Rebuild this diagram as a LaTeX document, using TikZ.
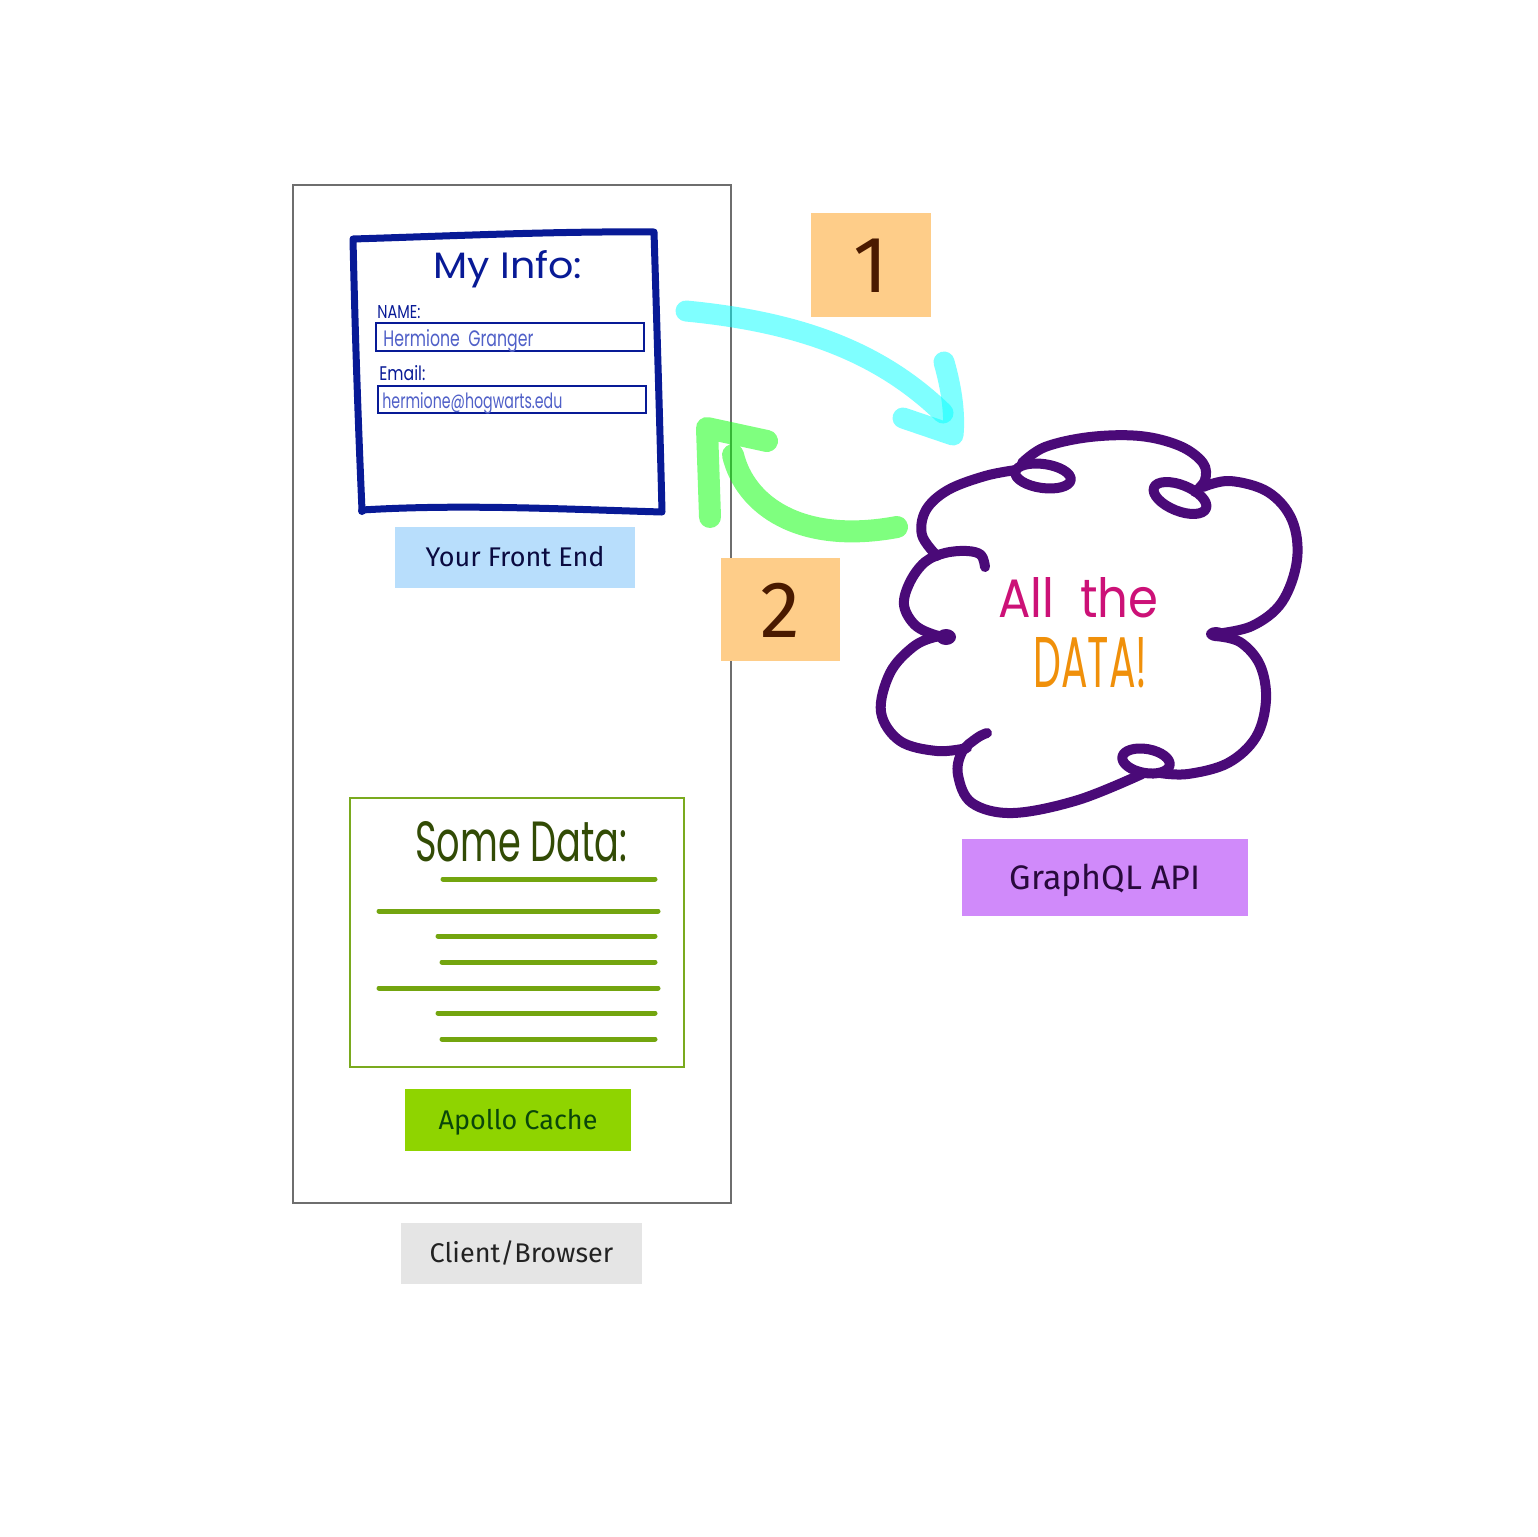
\documentclass[tikz,border=0pt]{standalone}
\usepackage{fontspec}
\usepackage{graphicx}
\setmainfont{Fira Sans}
\newfontfamily\handfont{Poppins}
\newcommand\hw[3]{\resizebox{#1pt}{#2pt}{\handfont #3}}
\definecolor{formblue}{RGB}{8,26,150}
\definecolor{fieldtxt}{RGB}{80,96,200}
\definecolor{boxgray}{RGB}{110,110,110}
\definecolor{datagreen}{RGB}{115,165,15}
\definecolor{databorder}{RGB}{122,170,30}
\definecolor{datatxt}{RGB}{50,75,5}
\definecolor{feblue}{RGB}{184,222,252}
\definecolor{fetxt}{RGB}{10,10,64}
\definecolor{apollo}{RGB}{143,212,0}
\definecolor{apollotxt}{RGB}{10,70,10}
\definecolor{clientgray}{RGB}{229,229,229}
\definecolor{clienttxt}{RGB}{34,34,34}
\definecolor{gqlfill}{RGB}{208,138,250}
\definecolor{gqltxt}{RGB}{40,10,60}
\definecolor{numfill}{RGB}{254,205,137}
\definecolor{numtxt}{RGB}{74,26,0}
\definecolor{cloudpurple}{RGB}{74,10,120}
\definecolor{allmag}{RGB}{204,17,119}
\definecolor{dataorange}{RGB}{240,144,10}
\definecolor{arrowcyan}{RGB}{0,255,255}
\definecolor{arrowgreen}{RGB}{0,255,0}
\tikzset{
  lblbox/.style={inner sep=0pt, text height=9.3pt, text depth=0pt, font=\fontsize{13.5}{16}\selectfont},
  numbox/.style={fill=numfill, text=numtxt, inner sep=0pt, text height=27.6pt, text depth=0pt, font=\fontsize{40}{44}\selectfont},
  hand/.style={inner sep=0pt},
  cloudline/.style={draw=cloudpurple, line width=5pt, line cap=round, line join=round},
  dataline/.style={draw=datagreen, line width=2.5pt, line cap=round},
  fieldbox/.style={draw=formblue, line width=1.4pt},
  cyanstroke/.style={draw=arrowcyan, opacity=0.5, line width=10.5pt, line cap=round, line join=round},
  greenstroke/.style={draw=arrowgreen, opacity=0.5, line width=11pt, line cap=round, line join=round}
}
\begin{document}
\begin{tikzpicture}[x=0.5pt,y=-0.5pt]
\useasboundingbox[fill=white] (0,0) rectangle (1537,1537);

% client box
\node[draw=boxgray, line width=1.1pt, minimum width=219pt, minimum height=509pt, inner sep=0pt] (client) at (512,694) {};
\node[lblbox, fill=clientgray, text=clienttxt, minimum width=120.5pt, minimum height=30.5pt] (clientlbl) at (521.5,1253.5) {Client/Browser};

% form
\draw[formblue, line width=3.5pt, line join=round, line cap=round]
  (353,239) .. controls (450,236) and (560,231) .. (654,232)
  .. controls (657,330) and (660,430) .. (662,512)
  .. controls (560,509) and (460,504) .. (362,510)
  .. controls (358,420) and (355,330) .. cycle;
\fill[formblue] (362,511) circle [radius=4];
\node[hand, text=formblue, anchor=base west] (title) at (433,278) {\hw{74.5}{14}{My Info:}};
\node[hand, text=formblue, anchor=base west] (namelbl) at (377,318) {\hw{21.5}{6.5}{NAME:}};
\draw[fieldbox] (376,323) rectangle (644,351);
\node[hand, text=fieldtxt, anchor=base west] (nameval) at (383,346) {\hw{75}{8.5}{Hermione\ \ Granger}};
\node[hand, text=formblue, anchor=base west] (emaillbl) at (379,380) {\hw{23}{7.5}{Email:}};
\draw[fieldbox] (378,386) rectangle (646,413);
\node[hand, text=fieldtxt, anchor=base west] (emailval) at (382,408) {\hw{90}{8}{hermione@hogwarts.edu}};
\node[lblbox, fill=feblue, text=fetxt, minimum width=120pt, minimum height=30.5pt] (fe) at (515,557.5) {Your Front End};

% data box
\node[draw=databorder, line width=1pt, minimum width=167pt, minimum height=134.5pt, inner sep=0pt] (cache) at (517,932.5) {};
\node[hand, text=datatxt, anchor=base west] (datatitle) at (415,861) {\hw{106}{20}{Some Data:}};
\draw[dataline] (443,879) -- (655,879);
\draw[dataline] (379,911) -- (658,911);
\draw[dataline] (438,936) -- (655,936);
\draw[dataline] (442,962) -- (655,962);
\draw[dataline] (379,988) -- (658,988);
\draw[dataline] (438,1013) -- (655,1013);
\draw[dataline] (442,1039) -- (655,1039);
\node[lblbox, fill=apollo, text=apollotxt, minimum width=113pt, minimum height=31pt] (apollolbl) at (518,1120) {Apollo Cache};

% number boxes
\node[numbox, minimum width=60pt, minimum height=52pt] (n1) at (871,265) {1};
\node[numbox, minimum width=59.5pt, minimum height=51.5pt] (n2) at (780.5,609.5) {2};

% cloud
\draw[cloudline] plot[smooth, tension=0.6] coordinates {(985,567) (981,555) (967,551) (945,553) (925,562) (910,582) (904,605) (915,625) (935,635) (950,637)};
\draw[cloudline] plot[smooth, tension=0.6] coordinates {(937,556) (922,535) (926,510) (948,490) (985,476) (1016,470)};
\draw[cloudline, rotate around={-8:(1043,476)}] (1043,476) ellipse [x radius=28, y radius=12];
\draw[cloudline] plot[smooth, tension=0.6] coordinates {(1022,463) (1045,447) (1090,437) (1140,436) (1180,446) (1203,463) (1205,480) (1195,492)};
\draw[cloudline, rotate around={-22:(1180,498)}] (1180,498) ellipse [x radius=28, y radius=13];
\draw[cloudline] plot[smooth, tension=0.6] coordinates {(1203,487) (1230,481) (1268,492) (1292,520) (1297,560) (1282,602) (1252,626) (1215,634)};
\draw[cloudline] plot[smooth, tension=0.6] coordinates {(1215,636) (1240,642) (1260,665) (1266,700) (1256,737) (1228,763) (1188,774) (1160,773)};
\draw[cloudline, rotate around={-10:(1146,761)}] (1146,761) ellipse [x radius=24, y radius=12];
\draw[cloudline] plot[smooth, tension=0.6] coordinates {(1142,774) (1078,800) (1013,813) (972,803) (958,775) (962,752) (977,738) (987,733)};
\draw[cloudline] plot[smooth, tension=0.6] coordinates {(967,748) (937,751) (900,741) (881,712) (890,673) (913,647) (935,637) (950,637)};
\fill[cloudpurple] (946,637) ellipse [x radius=10, y radius=8];
\fill[cloudpurple] (1216,634) ellipse [x radius=10, y radius=7];
\node[hand, text=allmag, anchor=base west] (allthe) at (998,617) {\hw{80}{20}{All\ \ the}};
\node[hand, text=dataorange, anchor=base west] (alldata) at (1033,687) {\hw{57}{25}{DATA!}};
\node[lblbox, fill=gqlfill, text=gqltxt, minimum width=143pt, minimum height=38.5pt, text height=11.7pt, font=\fontsize{17}{20}\selectfont] (gql) at (1105,877.5) {GraphQL API};

% arrows
\coordinate (c1s) at (686,311);
\coordinate (c1e) at (943,413);
\draw[cyanstroke] (c1s) .. controls (800,322) and (880,352) .. (c1e);
\draw[cyanstroke] (944,362) .. controls (952,390) and (955,415) .. (953,435) -- (903,418);
\coordinate (g1s) at (897,527);
\coordinate (g1e) at (733,455);
\draw[greenstroke] (g1s) .. controls (800,545) and (745,505) .. (g1e)
  (710,517) -- (707,428) -- (767,441);
\end{tikzpicture}
\end{document}
